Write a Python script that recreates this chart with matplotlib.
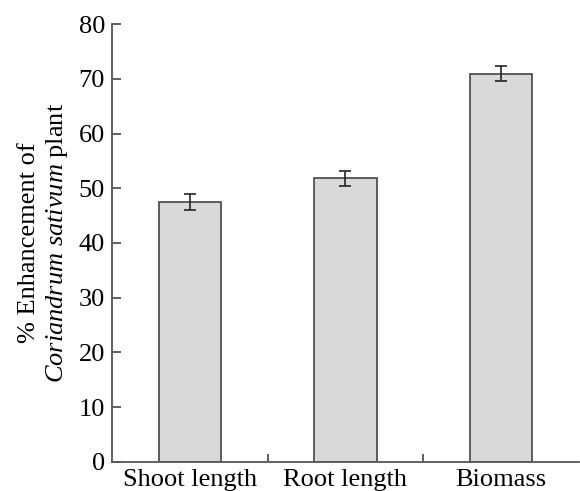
import numpy as np
import matplotlib
matplotlib.use('Agg')
import matplotlib.pyplot as plt

categories = ['Shoot length', 'Root length', 'Biomass']
enhancement = [47.5, 51.8, 70.9]
err = [1.4, 1.3, 1.4]

plt.rcParams['font.family'] = 'Liberation Serif'
plt.rcParams['mathtext.fontset'] = 'custom'
plt.rcParams['mathtext.rm'] = 'Liberation Serif'
plt.rcParams['mathtext.it'] = 'Liberation Serif:italic'

fig = plt.figure(figsize=(5.8, 4.91), dpi=100)
ax = fig.add_axes([0.1931, 0.0591, 0.805, 0.892])

x = np.arange(len(categories))
ax.bar(x, enhancement, width=0.4, color='#d9d9d9', edgecolor='#444444', linewidth=1.2)
ax.errorbar(x, enhancement, yerr=err, fmt='none', ecolor='#222222',
            elinewidth=1.2, capsize=4.5, capthick=1.2)

ax.set_xlim(-0.5, 2.5)
ax.set_ylim(0, 80)
ax.set_yticks(np.arange(0, 81, 10))
ax.set_xticks(x)
ax.set_xticklabels(categories, fontsize=19)
ax.set_xticks([0.5, 1.5], minor=True)
ax.tick_params(axis='x', which='major', length=0, pad=5)
ax.tick_params(axis='x', which='minor', direction='in', length=6, width=1.2, color='#444444')
ax.tick_params(axis='y', direction='in', length=6.5, width=1.2, color='#444444',
               labelsize=19, pad=5)

for side in ['top', 'right']:
    ax.spines[side].set_visible(False)
for side in ['left', 'bottom']:
    ax.spines[side].set_color('#555555')
    ax.spines[side].set_linewidth(1.3)

ax.set_ylabel('% Enhancement of\n$\\it{Coriandrum}$ $\\it{sativum}$ plant',
              fontsize=19, linespacing=1.25, labelpad=6)

fig.savefig('out.png', dpi=100)
